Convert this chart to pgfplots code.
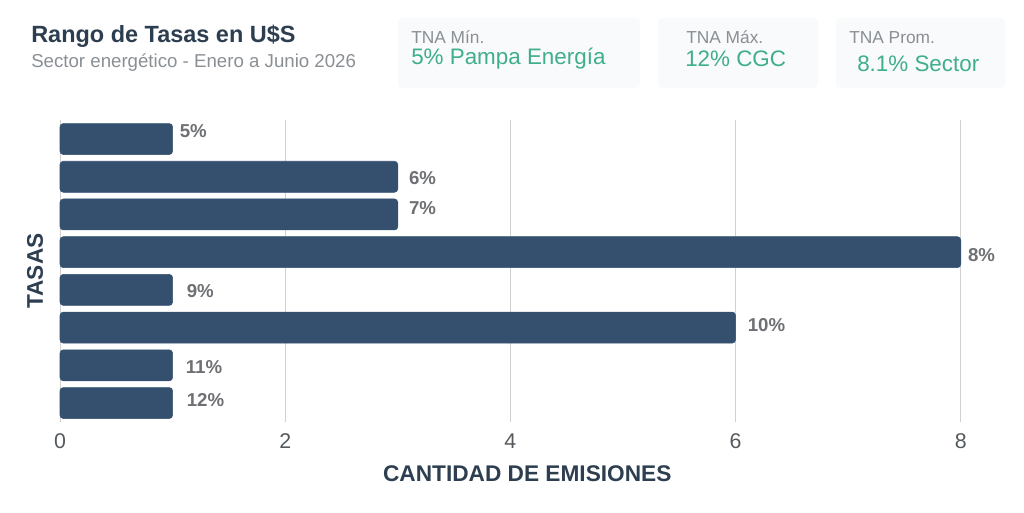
\documentclass[border=0pt]{standalone}
\usepackage{pgfplots}
\pgfplotsset{compat=1.18}
\usepackage{pgfplotstable}
\usepackage{fontspec}
\setmainfont{Liberation Sans}
\definecolor{barc}{HTML}{34506E}
\definecolor{titc}{HTML}{2C3E50}
\definecolor{subc}{HTML}{8A8F94}
\definecolor{labc}{HTML}{6E7074}
\definecolor{tickc}{HTML}{555A5E}
\definecolor{gridc}{HTML}{D0D0D0}
\definecolor{grn}{HTML}{3FAE8A}
\definecolor{cardbg}{HTML}{F9FAFB}
\pgfplotstableread{
pos cnt rate dx dy
0 1 5 7 -8
1 3 6 11 1
2 3 7 11 -6
3 8 8 7 3
4 1 9 14 1
5 6 10 12 -3
6 1 11 13 2
7 1 12 14 -3
}\rates
\begin{document}
\begin{tikzpicture}[x=0.75pt,y=-0.75pt]
\useasboundingbox (0,0) rectangle (1024,513);
\coordinate (axsw) at (60,421.9);
% header cards
\fill[cardbg, rounded corners=3pt] (398,18) rectangle (640,88);
\fill[cardbg, rounded corners=3pt] (658,18) rectangle (818,88);
\fill[cardbg, rounded corners=3pt] (836,18) rectangle (1005,88);
\node[anchor=base west, inner sep=0pt, text=titc, font=\fontsize{17.6}{20}\selectfont\bfseries] at (31,43) {Rango de Tasas en U\$S};
\node[anchor=base west, inner sep=0pt, text=subc, font=\fontsize{14}{16}\selectfont] at (31,68) {Sector energético - Enero a Junio 2026};
\node[anchor=base west, inner sep=0pt, text=subc, font=\fontsize{13}{15}\selectfont] at (411,44) {TNA Mín.};
\node[anchor=base west, inner sep=0pt, text=grn, font=\fontsize{16.8}{18}\selectfont] at (411,65) {5\% Pampa Energía};
\node[anchor=base west, inner sep=0pt, text=subc, font=\fontsize{13}{15}\selectfont] at (686,44) {TNA Máx.};
\node[anchor=base west, inner sep=0pt, text=grn, font=\fontsize{16.8}{18}\selectfont] at (685,67) {12\% CGC};
\node[anchor=base west, inner sep=0pt, text=subc, font=\fontsize{13}{15}\selectfont] at (849,44) {TNA Prom.};
\node[anchor=base west, inner sep=0pt, text=grn, font=\fontsize{16.8}{18}\selectfont] at (857,72) {8.1\% Sector};
\begin{axis}[
  at={(axsw)}, anchor=south west,
  scale only axis, width=700.9pt, height=226.3pt,
  xmin=0, xmax=8.3, ymin=-0.5, ymax=7.5, y dir=reverse,
  axis line style={draw=none},
  xtick={0,2,4,6,8}, ytick=\empty,
  major tick length=0pt,
  xmajorgrids, grid style={gridc, line width=0.6pt},
  /pgf/number format/assume math mode=true,
  xticklabel style={font=\fontsize{16}{18}\selectfont, text=tickc, anchor=north, inner sep=0pt, yshift=-8.5pt},
  xlabel={CANTIDAD DE EMISIONES}, ylabel={TASAS},
  every axis x label/.style={at={(axis description cs:0.5,0)}, anchor=center, yshift=-39pt, font=\fontsize{17}{20}\selectfont\bfseries, text=titc},
  every axis y label/.style={at={(axis description cs:-0.0268,0.5)}, anchor=center, rotate=90, font=\fontsize{17}{20}\selectfont\bfseries, text=titc},
  xbar, bar width=23.25pt,
  clip=false,
]
\addplot[fill=barc, draw=barc, rounded corners=2.5pt,
  visualization depends on={\thisrow{rate} \as \rate},
  visualization depends on={\thisrow{dx} \as \dx},
  visualization depends on={\thisrow{dy} \as \dy},
  nodes near coords={\pgfmathprintnumber[assume math mode=true]{\rate}\%},
  every node near coord/.style={anchor=west, inner sep=0pt, xshift=\dx*0.75pt, yshift=-\dy*0.75pt, font=\fontsize{14}{16}\selectfont\bfseries, text=labc},
] table[x=cnt, y=pos] {\rates};
\end{axis}
\end{tikzpicture}
\end{document}
